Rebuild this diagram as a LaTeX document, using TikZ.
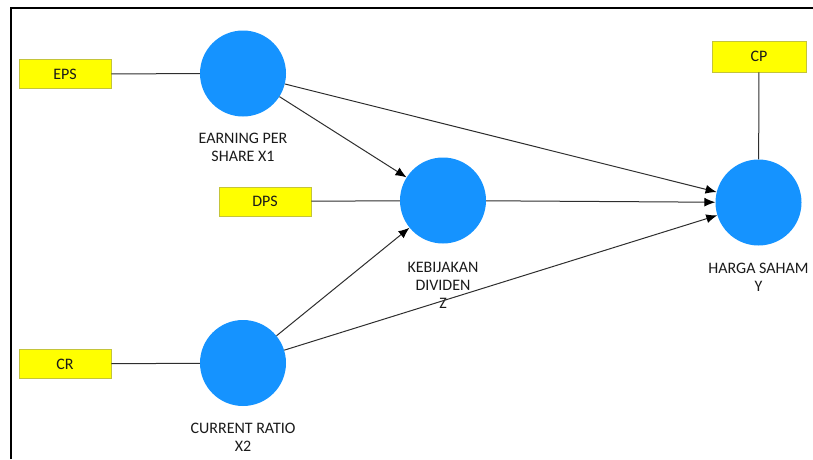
\documentclass[tikz,border=0pt]{standalone}
\usepackage{fontspec}
\setmainfont{Carlito}
\usetikzlibrary{arrows.meta}
\definecolor{PlsBlue}{HTML}{1593FF}
\definecolor{PlsYellow}{HTML}{FFFF00}
\definecolor{PlsEdge}{HTML}{C4C43A}
\definecolor{PlsLine}{HTML}{2E2E2E}
\definecolor{PlsInk}{HTML}{1A1A1A}

\begin{document}
\begin{tikzpicture}[
  x=1pt,
  y=-1pt,
  font=\fontsize{16}{18}\selectfont,
  latent/.style={
    circle,
    fill=PlsBlue,
    draw=none,
    minimum size=86pt,
    inner sep=0pt
  },
  indicator/.style={
    rectangle,
    fill=PlsYellow,
    draw=PlsEdge,
    line width=0.8pt,
    minimum width=92pt,
    minimum height=29pt,
    inner sep=0pt,
    text=PlsInk
  },
  caption/.style={align=center, anchor=north, inner sep=0pt, text=PlsInk},
  loading/.style={draw=PlsLine, line width=1pt},
  path/.style={-{Latex[length=11pt,width=9pt,black]}, draw=PlsLine, line width=1pt}
]
\useasboundingbox (0,0) rectangle (813,459);
\draw[line width=2pt] (11,459) -- (11,7.5) -- (813,7.5);

% latent variables
\node[latent] (eps) at (243,73.5) {};
\node[latent] (kd) at (443,200.5) {};
\node[latent] (hs) at (758.5,202.5) {};
\node[latent] (cr) at (243,363) {};

\node[caption] (epslabel) at (243,133) {EARNING PER\\SHARE X1};
\node[caption] (kdlabel) at (443,262) {KEBIJAKAN\\DIVIDEN\\Z};
\node[caption] (hslabel) at (758.5,263) {HARGA SAHAM\\Y};
\node[caption] (crlabel) at (243,423) {CURRENT RATIO\\X2};

% indicators
\node[indicator] (epsind) at (65,74) {EPS};
\node[indicator] (dpsind) at (265,201.5) {DPS};
\node[indicator, minimum width=94pt, minimum height=31pt] (cpind) at (759,56.5) {CP};
\node[indicator] (crind) at (65,364) {CR};

\draw[loading] (epsind) -- (eps);
\draw[loading] (dpsind) -- (kd);
\draw[loading] (cpind) -- (hs);
\draw[loading] (crind) -- (cr);

% structural paths
\draw[path] (eps) -- (kd);
\draw[path] (eps) -- (hs);
\draw[path] (kd) -- (hs);
\draw[path] (cr) -- (kd);
\draw[path] (cr) -- (hs);
\end{tikzpicture}
\end{document}
